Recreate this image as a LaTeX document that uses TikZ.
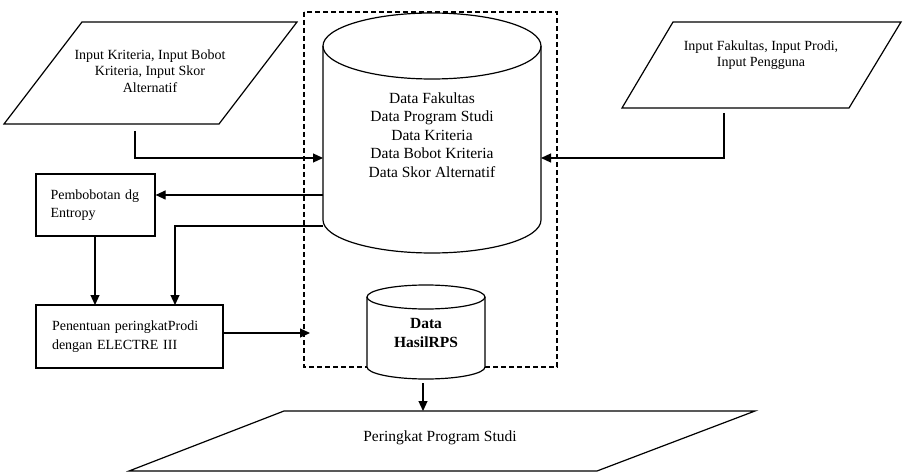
\documentclass[tikz,border=0pt]{standalone}
\usepackage{fontspec}
\setmainfont{Liberation Serif}
\usetikzlibrary{arrows.meta}
\tikzset{
  ln/.style={line width=1.2pt},
  arr/.style={line width=1.2pt, -{Triangle[length=10pt,width=9pt]}},
  txt/.style={align=center, inner sep=0pt, font=\fontsize{14}{16.6}\selectfont},
  boxnode/.style={draw, line width=1.2pt, minimum width=119pt, minimum height=62pt, align=left, inner ysep=0pt, font=\fontsize{14}{18.5}\selectfont},
}
\begin{document}
\begin{tikzpicture}[x=1pt,y=1pt]
\useasboundingbox (0,0) rectangle (903,-476);
% dashed frame
\draw[line width=1.2pt, dash pattern=on 5pt off 3pt] (304,-12) rectangle (557,-367);
% input parallelogram 1
\draw[ln] (82,-22) -- (297,-22) -- (219,-124) -- (4,-124) -- cycle;
\node[txt] (in1) at (150,-71) {Input Kriteria, Input Bobot\\Kriteria, Input Skor\\Alternatif};
\coordinate (in1b) at (135,-131);
% input parallelogram 2
\draw[ln] (673,-22) -- (901,-22) -- (849,-108) -- (622,-108) -- cycle;
\node[txt] (in2) at (761,-55) {Input Fakultas, Input Prodi,\\Input Pengguna};
\coordinate (in2b) at (724,-113);
% big database
\draw[ln, fill=white] (323,-46) -- (323,-220) arc[start angle=180, end angle=360, x radius=109, y radius=33] -- (541,-46);
\draw[ln] (432,-46) ellipse [x radius=109, y radius=33];
\node[align=center, inner sep=0pt, font=\fontsize{15.5}{18.5}\selectfont] (db) at (432,-135) {Data Fakultas\\Data Program Studi\\Data Kriteria\\Data Bobot Kriteria\\Data Skor Alternatif};
\coordinate (dbL1) at (323,-158);
\coordinate (dbR1) at (541,-158);
\coordinate (dbL2) at (323,-195);
\coordinate (dbL3) at (323,-226);
% result database
\draw[ln, fill=white] (367,-297) -- (367,-367) arc[start angle=180, end angle=360, x radius=59, y radius=12] -- (485,-297);
\draw[ln, fill=white] (426,-297) ellipse [x radius=59, y radius=12];
\node[align=center, inner sep=0pt, font=\bfseries\fontsize{15.5}{20}\selectfont] (hasil) at (426,-333) {Data\\HasilRPS};
\coordinate (hasilb) at (423,-383);
% process boxes
\node[boxnode, text width=90pt, inner xsep=14.5pt] (entropy) at (95.5,-205) {Pembobotan dg\\Entropy};
\node[boxnode, minimum width=187pt, minimum height=63pt, text width=155pt, inner xsep=16pt] (electre) at (129.5,-336.5) {Penentuan peringkatProdi\\dengan ELECTRE III};
\coordinate (frameL) at (310,-333);
% output parallelogram
\draw[ln] (284,-411) -- (755,-411) -- (597,-471) -- (129,-471) -- cycle;
\node[inner sep=0pt, font=\fontsize{15.5}{18}\selectfont] (out) at (440,-438) {Peringkat Program Studi};
\coordinate (outt) at (423,-411);
% connectors
\draw[arr] (in1b) |- (dbL1);
\draw[arr] (in2b) |- (dbR1);
\draw[arr] (dbL2) -- (entropy.east |- dbL2);
\draw[arr] (dbL3) -| (175,-305);
\draw[arr] (95,-236) -- (95,-305);
\draw[arr] (electre.east |- frameL) -- (frameL);
\draw[arr] (hasilb) -- (outt);
\end{tikzpicture}
\end{document}
